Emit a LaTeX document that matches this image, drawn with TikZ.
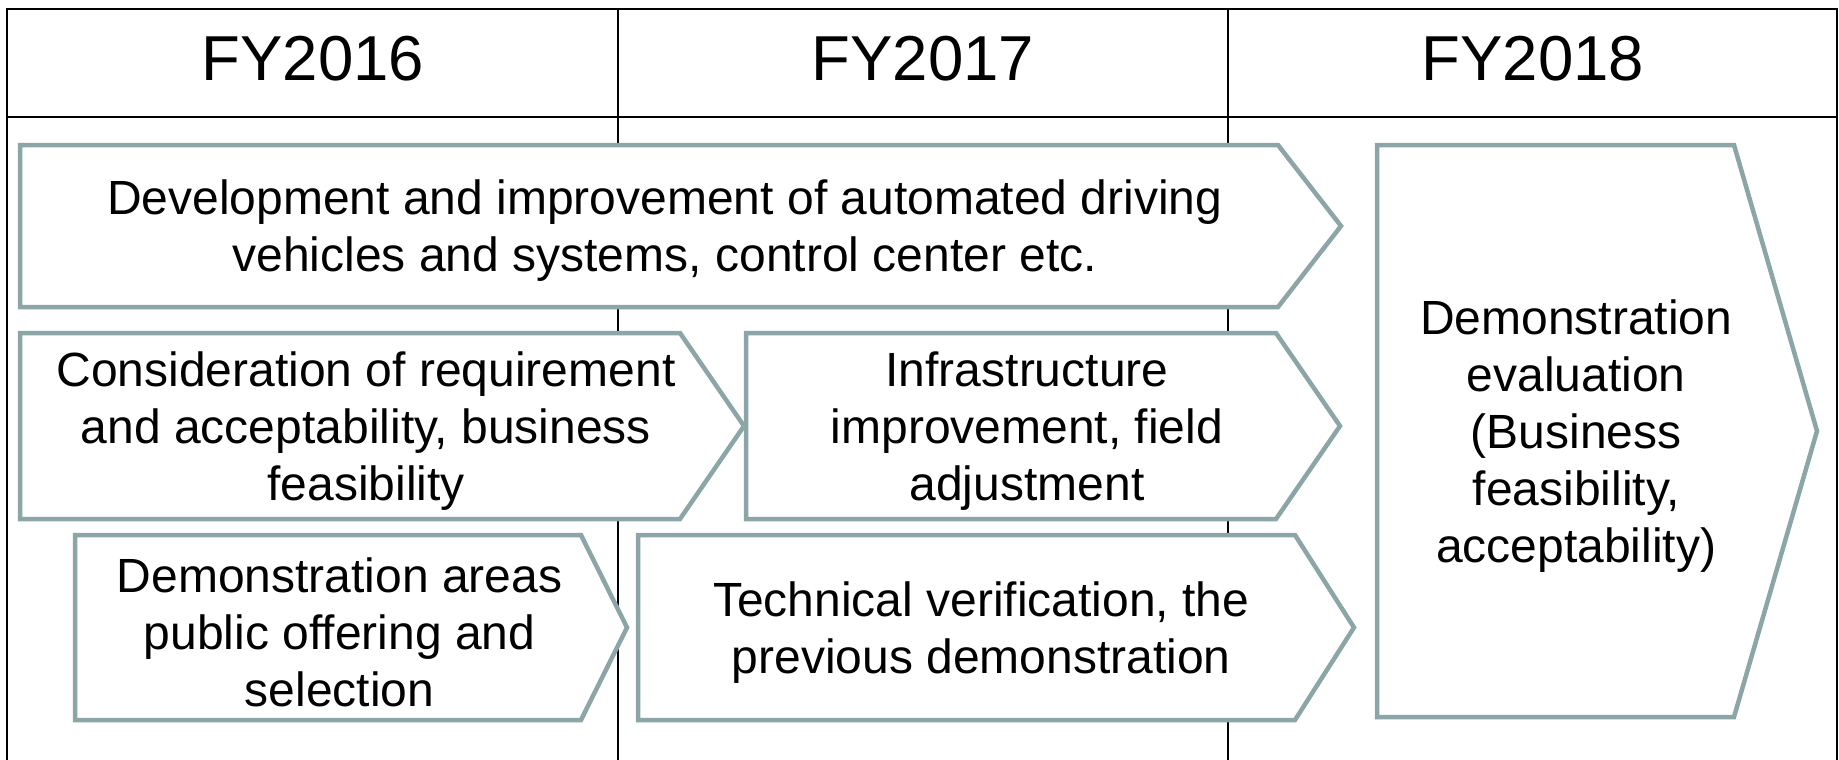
\documentclass[tikz,border=0pt]{standalone}
\usepackage{fontspec}
\setmainfont{Liberation Sans}
\definecolor{chevgray}{HTML}{8CA5A6}
\tikzset{
  chev/.style={draw=chevgray, line width=4.5pt, fill=white, line join=miter},
  lbl/.style={align=center, inner sep=0pt, font=\fontsize{48}{57}\selectfont},
  hdr/.style={inner sep=0pt, font=\fontsize{63.5}{70}\selectfont},
  grid/.style={draw=black, line width=2pt}
}
\newcommand\chevron[7]{%
  \draw[chev] (#2,#3) -- (#5,#3) -- (#6,{(#3+#4)/2}) -- (#5,#4) -- (#2,#4) -- cycle;
  \node[lbl] (#1) at ({(2*#2+#5+#6)/4},{(#3+#4)/2+5}) {#7};
}
\begin{document}
\begin{tikzpicture}[x=1pt,y=-1pt]
\useasboundingbox (0,0) rectangle (1839,760);
% table
\draw[grid] (7,760) -- (7,9) -- (1837,9) -- (1837,760);
\draw[grid] (7,117) -- (1837,117);
\draw[grid] (618,9) -- (618,760);
\draw[grid] (1228,9) -- (1228,760);
\node[hdr] (h16) at (313,59) {FY2016};
\node[hdr] (h17) at (923,59) {FY2017};
\node[hdr] (h18) at (1533,59) {FY2018};
% chevrons
\chevron{dev}{20}{145}{307}{1278}{1341}{Development and improvement of automated driving\\vehicles and systems, control center etc.}
\chevron{cons}{20}{333}{519}{680}{744}{Consideration of requirement\\and acceptability, business\\feasibility}
\chevron{infra}{746}{333}{519}{1276}{1340}{Infrastructure\\improvement, field\\adjustment}
\chevron{areas}{75}{535}{720}{581}{627}{Demonstration areas\\public offering and\\selection}
\chevron{tech}{638}{535}{720}{1295}{1354}{Technical verification, the\\previous demonstration}
\chevron{evalu}{1377}{145}{717}{1734}{1817}{Demonstration\\evaluation\\(Business\\feasibility,\\acceptability)}
\end{tikzpicture}
\end{document}
